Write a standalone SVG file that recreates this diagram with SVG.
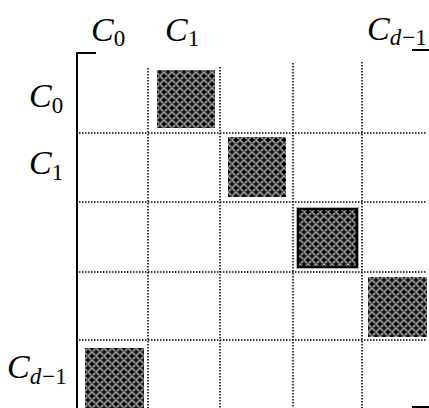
<svg xmlns="http://www.w3.org/2000/svg" width="429" height="408" viewBox="0 0 429 408">
<defs>
<pattern id="hatch" width="8" height="8" patternUnits="userSpaceOnUse">
<rect width="8" height="8" fill="#555"/>
<circle cx="4" cy="4" r="2.8" fill="none" stroke="#a8a8a8" stroke-width="1"/>
<path d="M4 1.5V6.5M1.5 4H6.5" stroke="#000" stroke-width="1.8"/>
<path d="M0 -1.5V1.5M-1.5 0H1.5M8 -1.5V1.5M6.5 0H9.5M0 6.5V9.5M-1.5 8H1.5M8 6.5V9.5M6.5 8H9.5" stroke="#000" stroke-width="1.6"/>
<rect x="3.5" y="0" width="1" height="1" fill="#fff"/>
<rect x="0" y="3.5" width="1" height="1" fill="#fff"/>
</pattern>
<style>
.grid{stroke:#000;stroke-width:1.5;stroke-dasharray:1.5 1.5;fill:none}
.br{stroke:#000;stroke-width:2;fill:none}
.blk{fill:url(#hatch)}
.lab{font-family:"Liberation Serif",serif;font-style:italic;font-size:34px;fill:#000}
.sub{font-family:"Liberation Serif",serif;font-style:normal;font-size:23px;fill:#000}
.subi{font-style:italic}
</style>
</defs>
<rect width="429" height="408" fill="#fff"/>
<g id="connectors">
<path class="grid" d="M148 68V408M220 67V408M293 63V408M362 62V408"/>
<path class="grid" d="M79 133H427M79 202H427M79 272H427M79 340H427"/>
<path class="br" d="M96 53H77V408"/>
<path class="br" d="M412 50H429M412 407H429"/>
</g>
<g id="block-0-1"><rect class="blk" x="157" y="70" width="58" height="58"/></g>
<g id="block-1-2"><rect class="blk" x="228" y="137" width="58" height="60"/></g>
<g id="block-2-3"><rect class="blk" x="298" y="209" width="59" height="58" stroke="#000" stroke-width="2.5"/><rect x="296.5" y="207.5" width="62" height="61" fill="none" stroke="#aaa" stroke-width="0.8"/></g>
<g id="block-3-4"><rect class="blk" x="368" y="277" width="59" height="60"/></g>
<g id="block-4-0"><rect class="blk" x="85" y="348" width="59" height="60"/></g>
<g id="col-label-0"><text class="lab" x="91" y="41">C<tspan class="sub" dy="5">0</tspan></text></g>
<g id="col-label-1"><text class="lab" x="165" y="41">C<tspan class="sub" dy="5">1</tspan></text></g>
<g id="col-label-d"><text class="lab" x="367" y="40">C<tspan class="sub subi" dy="5">d</tspan><tspan class="sub" dx="1">−1</tspan></text></g>
<g id="row-label-0"><text class="lab" x="29" y="107">C<tspan class="sub" dy="6">0</tspan></text></g>
<g id="row-label-1"><text class="lab" x="29" y="174">C<tspan class="sub" dy="6">1</tspan></text></g>
<g id="row-label-d"><text class="lab" x="7" y="378">C<tspan class="sub subi" dy="6">d</tspan><tspan class="sub" dx="1">−1</tspan></text></g>
</svg>
